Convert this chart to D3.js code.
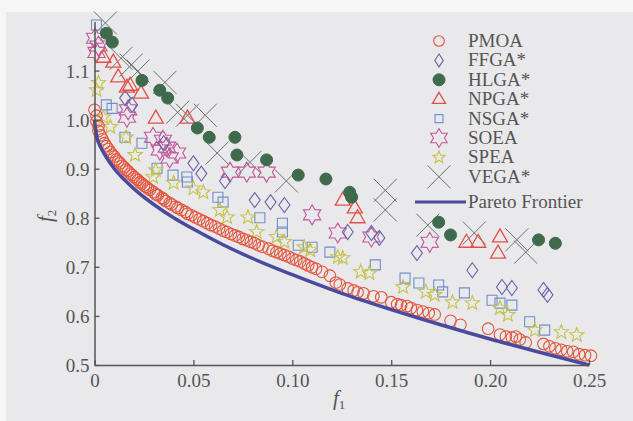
<!DOCTYPE html>
<html>
<head>
<meta charset="utf-8">
<script src="https://cdn.jsdelivr.net/npm/d3@7"></script>
<style>
  body { margin: 0; background: #f6f6f6; }
  svg { display: block; }
  text { font-family: "Liberation Serif", "Times New Roman", serif; fill: #555; }
</style>
</head>
<body>
<div id="chart"></div>
<script>
// tick labels
const xTicks = [0, 0.05, 0.10, 0.15, 0.20, 0.25]
const xTickLabels = ['0', '0.05', '0.10', '0.15', '0.20', '0.25']
const yTicks = [0.5, 0.6, 0.7, 0.8, 0.9, 1.0, 1.1]
const yTickLabels = ['0.5', '0.6', '0.7', '0.8', '0.9', '1.0', '1.1']

const legendNames = ['PMOA', 'FFGA*', 'HLGA*', 'NPGA*', 'NSGA*', 'SOEA', 'SPEA', 'VEGA*', 'Pareto Frontier']

// [f1, f2]
const pmoa = [
  [0.000,1.020],[0.001,1.008],[0.001,0.996],[0.002,0.987],[0.002,0.977],[0.003,0.968],[0.004,0.960],[0.005,0.952],
  [0.006,0.946],[0.007,0.940],[0.008,0.934],[0.009,0.929],[0.010,0.925],[0.011,0.919],[0.012,0.915],[0.013,0.911],
  [0.014,0.906],[0.015,0.903],[0.016,0.898],[0.017,0.895],[0.018,0.890],[0.019,0.887],[0.020,0.883],[0.021,0.880],
  [0.022,0.877],[0.023,0.872],[0.024,0.870],[0.025,0.866],[0.026,0.863],[0.027,0.860],[0.028,0.857],[0.030,0.852],
  [0.031,0.848],[0.032,0.846],[0.034,0.841],[0.035,0.838],[0.036,0.834],[0.038,0.830],[0.039,0.827],[0.041,0.823],
  [0.042,0.820],[0.044,0.816],[0.046,0.812],[0.047,0.808],[0.049,0.805],[0.051,0.801],[0.053,0.797],[0.055,0.793],
  [0.057,0.789],[0.059,0.785],[0.061,0.782],[0.063,0.778],[0.065,0.774],[0.067,0.771],[0.069,0.767],[0.071,0.764],
  [0.073,0.761],[0.075,0.757],[0.077,0.754],[0.079,0.751],[0.081,0.748],[0.083,0.744],[0.085,0.741],[0.088,0.737],
  [0.090,0.733],[0.092,0.730],[0.094,0.727],[0.096,0.724],[0.098,0.721],[0.100,0.717],[0.102,0.714],[0.104,0.711],
  [0.106,0.707],[0.108,0.703],[0.110,0.699],[0.112,0.696],[0.115,0.690],[0.119,0.682],[0.122,0.668],[0.124,0.664],
  [0.128,0.656],[0.131,0.652],[0.133,0.648],[0.136,0.646],[0.141,0.640],[0.145,0.638],[0.150,0.628],[0.153,0.624],
  [0.155,0.622],[0.158,0.620],[0.160,0.616],[0.163,0.612],[0.166,0.609],[0.169,0.606],[0.172,0.603],[0.180,0.590],
  [0.185,0.582],[0.199,0.574],[0.205,0.562],[0.208,0.558],[0.211,0.556],[0.213,0.558],[0.215,0.552],[0.218,0.546],
  [0.227,0.543],[0.230,0.538],[0.233,0.534],[0.236,0.531],[0.239,0.528],[0.242,0.527],[0.245,0.522],[0.248,0.520],
  [0.251,0.519]
]
const ffga = [
  [0.0155,1.044],[0.019,1.030],[0.035,0.952],[0.050,0.911],[0.054,0.890],[0.066,0.875],[0.081,0.836],[0.089,0.832],
  [0.096,0.826],[0.128,0.771],[0.140,0.769],[0.144,0.759],[0.163,0.728],[0.191,0.693],[0.206,0.659],[0.211,0.657],
  [0.227,0.653],[0.229,0.643]
]
const hlga = [
  [0.006,1.176],[0.009,1.158],[0.024,1.080],[0.033,1.060],[0.037,1.044],[0.052,0.983],[0.058,0.964],[0.071,0.964],
  [0.072,0.928],[0.087,0.918],[0.103,0.887],[0.117,0.879],[0.129,0.852],[0.130,0.842],[0.174,0.791],[0.180,0.765],
  [0.2245,0.755],[0.233,0.748]
]
const npga = [
  [0.0045,1.127],[0.0095,1.117],[0.012,1.087],[0.0164,1.066],[0.018,1.070],[0.0235,1.054],[0.031,1.003],[0.047,1.003],
  [0.1255,0.836],[0.1316,0.820],[0.133,0.800],[0.188,0.750],[0.194,0.750],[0.205,0.761],[0.204,0.728]
]
const nsga = [
  [0.001,1.193],[0.006,1.030],[0.0089,1.023],[0.0154,0.964],[0.024,0.952],[0.0316,0.901],[0.0397,0.887],[0.0467,0.883],
  [0.047,0.873],[0.0624,0.842],[0.065,0.832],[0.0836,0.800],[0.095,0.789],[0.095,0.771],[0.103,0.744],[0.110,0.740],
  [0.119,0.730],[0.142,0.704],[0.157,0.677],[0.164,0.667],[0.174,0.663],[0.176,0.649],[0.187,0.647],[0.201,0.632],
  [0.205,0.626],[0.211,0.622],[0.220,0.588],[0.2276,0.571]
]
const soea = [
  [0.0003,1.166],[0.002,1.150],[0.001,1.137],[0.0164,1.005],[0.017,1.020],[0.0296,0.964],[0.0346,0.958],[0.0366,0.944],
  [0.0417,0.932],[0.033,0.938],[0.038,0.922],[0.0685,0.893],[0.077,0.893],[0.087,0.893],[0.110,0.806],[0.123,0.769],
  [0.140,0.761],[0.1695,0.750]
]
const spea = [
  [0.001,1.060],[0.002,1.075],[0.0045,1.005],[0.008,0.985],[0.016,0.964],[0.0205,0.928],[0.031,0.897],[0.0296,0.883],
  [0.040,0.871],[0.050,0.860],[0.055,0.852],[0.0634,0.816],[0.067,0.801],[0.0776,0.801],[0.082,0.771],[0.092,0.761],
  [0.096,0.751],[0.106,0.740],[0.109,0.734],[0.123,0.720],[0.1255,0.718],[0.1346,0.690],[0.139,0.687],[0.156,0.659],
  [0.1675,0.649],[0.172,0.643],[0.181,0.628],[0.191,0.626],[0.205,0.616],[0.209,0.602],[0.2226,0.571],[0.236,0.567],
  [0.2438,0.561]
]
const vega = [
  [0.0055,1.197],[0.0134,1.125],[0.0185,1.111],[0.022,1.099],[0.0356,1.076],[0.042,1.015],[0.047,1.009],[0.056,1.009],
  [0.062,0.932],[0.0786,0.913],[0.097,0.875],[0.147,0.856],[0.147,0.816],[0.1685,0.785],[0.192,0.769],[0.2135,0.755],
  [0.218,0.730]
]
const pareto = [
  [0.000,1.000],[0.001,0.968],[0.003,0.945],[0.006,0.923],[0.010,0.900],[0.015,0.878],[0.020,0.859],[0.030,0.827],
  [0.040,0.800],[0.050,0.777],[0.065,0.745],[0.080,0.717],[0.100,0.684],[0.125,0.646],[0.150,0.613],[0.175,0.582],
  [0.200,0.553],[0.225,0.526],[0.250,0.500]
]

const width = 633, height = 421

const svg = d3.select('#chart')
  .append('svg')
  .attr('width', width)
  .attr('height', height)

// scanned page look: light gray with a whiter strip on top and left
svg.append('rect')
  .attr('x', 6).attr('y', 12)
  .attr('width', width - 6).attr('height', height - 12)
  .attr('fill', '#e9e9eb')

const x = d3.scaleLinear().domain([0, 0.25]).range([94.5, 589])
const y = d3.scaleLinear().domain([0.5, 1.2]).range([365, 21.5])

// shape paths centred on 0,0
const diamond = (w, h) => `M0,${-h}L${w},0L0,${h}L${-w},0Z`
const triangle = (w, h) => `M0,${-h * 0.62}L${w},${h * 0.38}L${-w},${h * 0.38}Z`
const square = s => `M${-s / 2},${-s / 2}h${s}v${s}h${-s}Z`
const cross = a => `M${-a},${-a}L${a},${a}M${a},${-a}L${-a},${a}`
function starPath(n, R, r) {
  const pts = []
  for (let i = 0; i < n * 2; i++) {
    const a = -Math.PI / 2 + i * Math.PI / n
    const rad = i % 2 === 0 ? R : r
    pts.push([rad * Math.cos(a), rad * Math.sin(a)])
  }
  return 'M' + pts.map(p => p[0].toFixed(2) + ',' + p[1].toFixed(2)).join('L') + 'Z'
}
const circlePath = r => `M${-r},0a${r},${r} 0 1,0 ${2 * r},0a${r},${r} 0 1,0 ${-2 * r},0Z`

const series = [
  { name: 'VEGA*', data: vega, path: cross(11.5), stroke: '#707070', fill: 'none', sw: 1, legend: cross(11.5) },
  { name: 'NSGA*', data: nsga, path: square(10), stroke: '#6f8fcc', fill: 'none', sw: 1.1, legend: square(8) },
  { name: 'SPEA', data: spea, path: starPath(5, 7.5, 3.2), stroke: '#c6c24a', fill: 'none', sw: 1.1, legend: starPath(5, 6.5, 2.8) },
  { name: 'SOEA', data: soea, path: starPath(6, 10, 5.8), stroke: '#c2569a', fill: 'none', sw: 1.1, legend: starPath(6, 9.5, 5.5) },
  { name: 'FFGA*', data: ffga, path: diamond(5.5, 7.5), stroke: '#6a62ac', fill: 'none', sw: 1.1, legend: diamond(4.3, 6.5) },
  { name: 'NPGA*', data: npga, path: triangle(7.5, 13), stroke: '#e2504a', fill: 'none', sw: 1.3, legend: triangle(6.5, 11) },
  { name: 'PMOA', data: pmoa, path: circlePath(5.8), stroke: '#e4553c', fill: 'none', sw: 1.1, legend: circlePath(5.3) },
  { name: 'HLGA*', data: hlga, path: circlePath(6), stroke: '#3f6a4c', fill: '#3f6a4c', sw: 1, legend: circlePath(6) }
]

series.forEach(s => {
  svg.append('g')
    .selectAll('path')
    .data(s.data)
    .join('path')
    .attr('transform', d => `translate(${x(d[0])},${y(d[1])})`)
    .attr('d', s.path)
    .attr('fill', s.fill)
    .attr('stroke', s.stroke)
    .attr('stroke-width', s.sw)
})

const line = d3.line()
  .x(d => x(d[0]))
  .y(d => y(d[1]))
  .curve(d3.curveMonotoneX)

svg.append('path')
  .datum(pareto)
  .attr('fill', 'none')
  .attr('stroke', '#4b4b9e')
  .attr('stroke-width', 3.5)
  .attr('d', line)

// axes, ticks pointing inward
const xAxis = svg.append('g')
  .attr('transform', `translate(0,${y(0.5)})`)
  .call(d3.axisBottom(x).tickValues(xTicks).tickSize(-5).tickSizeOuter(0).tickPadding(9)
    .tickFormat((d, i) => xTickLabels[i]))
const yAxis = svg.append('g')
  .attr('transform', `translate(${x(0)},0)`)
  .call(d3.axisLeft(y).tickValues(yTicks).tickSize(-5).tickSizeOuter(0).tickPadding(5)
    .tickFormat((d, i) => yTickLabels[i]))

;[xAxis, yAxis].forEach(g => {
  g.select('.domain').attr('stroke', '#555').attr('stroke-width', 1.5)
  g.selectAll('.tick line').attr('stroke', '#555').attr('stroke-width', 1.3)
  g.selectAll('.tick text')
    .attr('fill', '#5a5a5a')
    .style('font-family', '"Liberation Serif", "Times New Roman", serif')
    .style('font-size', '19px')
})
yAxis.selectAll('.tick text').attr('dy', '0.34em')

// axis titles
const xt = svg.append('text')
  .attr('x', 333).attr('y', 405)
  .style('font-size', '21px')
xt.append('tspan').style('font-style', 'italic').text('f')
xt.append('tspan').attr('dy', 4).style('font-size', '13px').text('1')

const yt = svg.append('text')
  .attr('transform', 'translate(52,222) rotate(-90)')
  .style('font-size', '21px')
yt.append('tspan').style('font-style', 'italic').text('f')
yt.append('tspan').attr('dy', 4).style('font-size', '13px').text('2')

// legend
const legendOrder = ['PMOA', 'FFGA*', 'HLGA*', 'NPGA*', 'NSGA*', 'SOEA', 'SPEA', 'VEGA*']
const legend = svg.append('g')
legendNames.forEach((name, i) => {
  const base = i < 8 ? 47 + i * 19.4 : 208
  legend.append('text')
    .attr('x', 468).attr('y', base)
    .style('font-size', '19px')
    .attr('fill', '#555')
    .text(name)
  if (i < 8) {
    const s = series.find(d => d.name === legendOrder[i])
    legend.append('path')
      .attr('transform', `translate(439,${base - 6})`)
      .attr('d', s.legend)
      .attr('fill', s.fill)
      .attr('stroke', s.stroke)
      .attr('stroke-width', s.sw)
  } else {
    legend.append('line')
      .attr('x1', 415).attr('x2', 466)
      .attr('y1', base - 6).attr('y2', base - 6)
      .attr('stroke', '#4b4b9e')
      .attr('stroke-width', 3)
  }
})
</script>
</body>
</html>
